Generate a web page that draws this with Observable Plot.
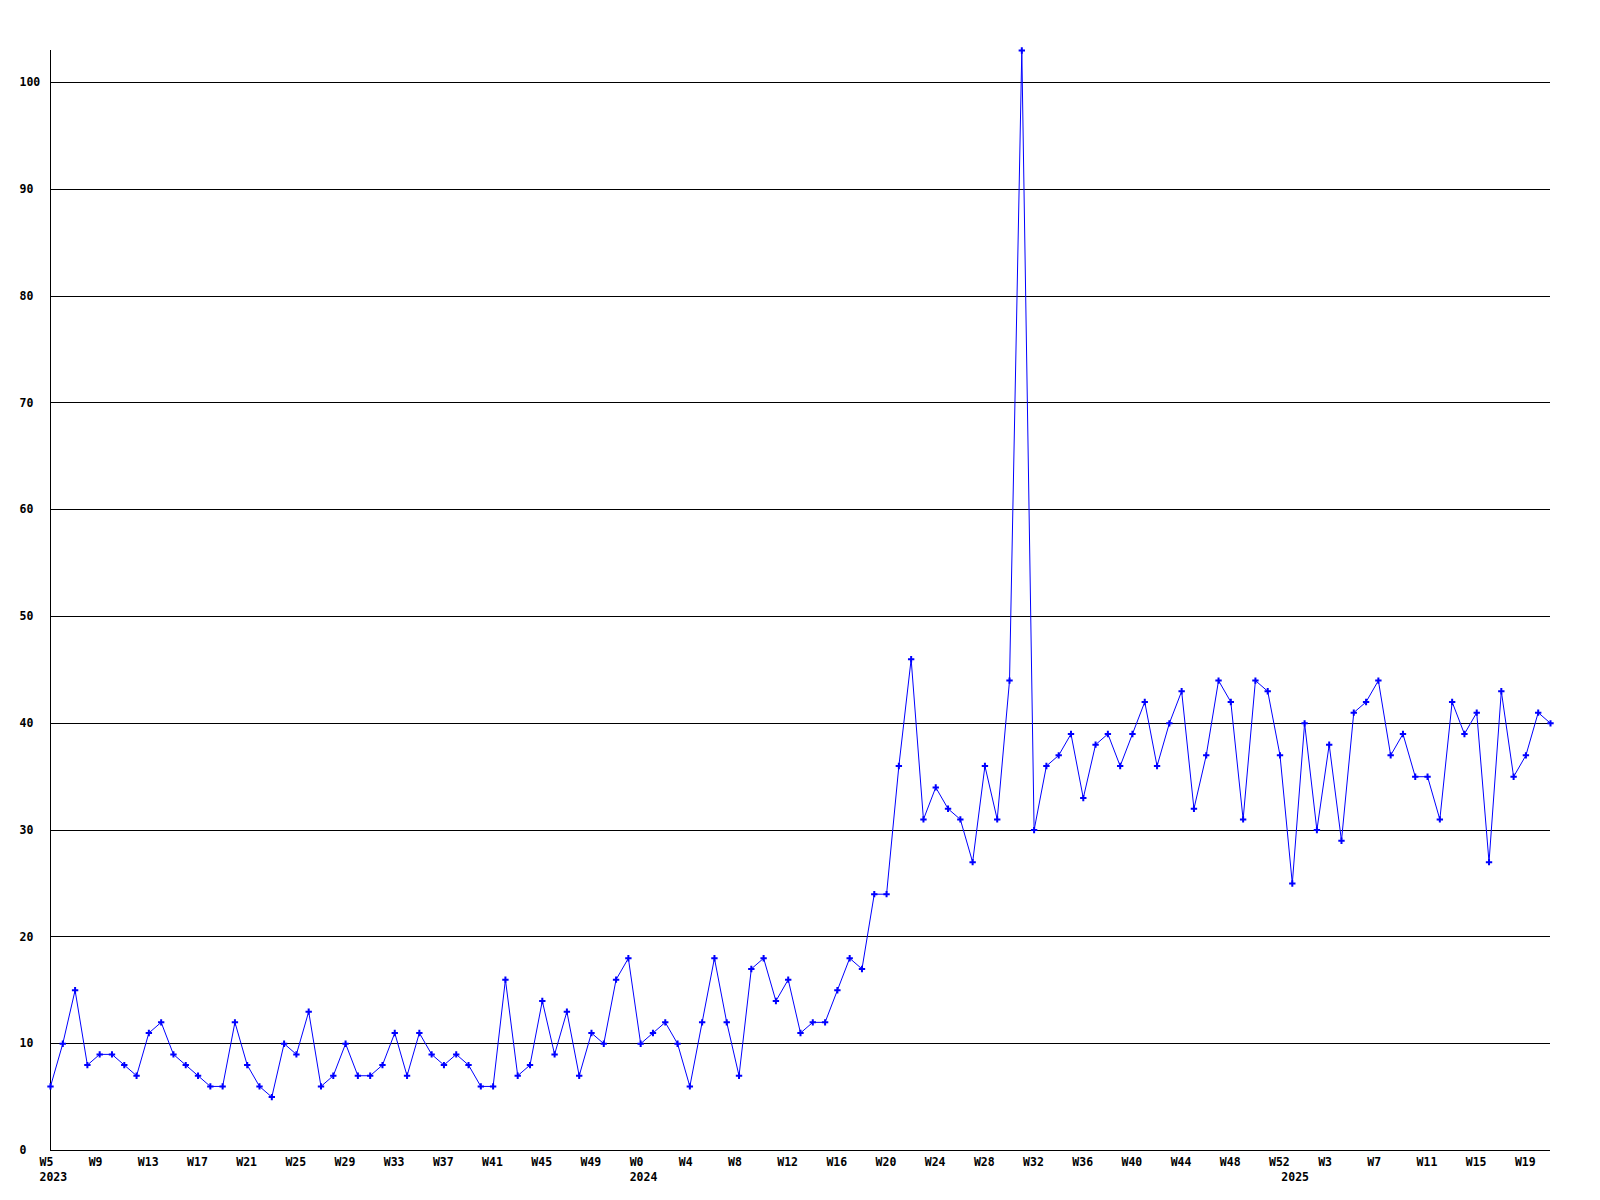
<!DOCTYPE html>
<html>
<head>
<meta charset="utf-8">
<script src="https://cdn.jsdelivr.net/npm/d3@7"></script>
<script src="https://cdn.jsdelivr.net/npm/@observablehq/plot@0.6"></script>
<style>
  html, body { margin: 0; padding: 0; background: #ffffff; }
  #chart svg { display: block; }
</style>
</head>
<body>
<div id="chart"></div>
<script>
// Weekly values
const years = [2023, 2024, 2025];
const firstWeek = [5, 0, 0];
const values2023 = [6, 10, 15, 8, 9, 9, 8, 7, 11, 12, 9, 8, 7, 6, 6, 12, 8, 6, 5, 10,
  9, 13, 6, 7, 10, 7, 7, 8, 11, 7, 11, 9, 8, 9, 8, 6, 6, 16, 7, 8, 14, 9, 13, 7, 11, 10, 16, 18];
const values2024 = [10, 11, 12, 10, 6, 12, 18, 12, 7, 17, 18, 14, 16, 11, 12, 12, 15, 18, 17, 24,
  24, 36, 46, 31, 34, 32, 31, 27, 36, 31, 44, 103, 30, 36, 37, 39, 33, 38, 39, 36,
  39, 42, 36, 40, 43, 32, 37, 44, 42, 31, 44, 43, 37];
const values2025 = [25, 40, 30, 38, 29, 41, 42, 44, 37, 39, 35, 35, 31, 42, 39, 41, 27, 43, 35, 37, 41, 40];
const yTicks = [0, 10, 20, 30, 40, 50, 60, 70, 80, 90, 100];
const yMax = 103;
const labelEvery = 4;

// Build table
const series = [values2023, values2024, values2025];
const data = [];
series.forEach((vals, k) => {
  vals.forEach((v, j) => {
    data.push({ i: data.length, v, week: "W" + (firstWeek[k] + j), year: years[k], firstOfYear: j === 0 });
  });
});
const xTicks = data.filter(d => d.i % labelEvery === 0);
const yearLabels = data.filter(d => d.firstOfYear);
const lastIndex = data.length - 1;

const blue = "#0000ff";
const font = "'DejaVu Sans Mono', 'Liberation Mono', monospace";

const chart = Plot.plot({
  width: 1600,
  height: 1200,
  marginLeft: 50,
  marginRight: 50,
  marginTop: 50,
  marginBottom: 50,
  style: { background: "#ffffff", fontFamily: font, fontSize: "11.5px", fontWeight: "bold", color: "#000" },
  x: { axis: null, domain: [0, lastIndex] },
  y: { axis: null, domain: [0, yMax] },
  marks: [
    Plot.ruleY(yTicks, { stroke: "#000", strokeWidth: 1, shapeRendering: "crispEdges" }),
    Plot.ruleX([0], { y1: 0, y2: yMax, stroke: "#000", strokeWidth: 1, shapeRendering: "crispEdges" }),
    Plot.text(yTicks, { x: 0, y: d => d, text: d => String(d), dx: -31, textAnchor: "start", fill: "#000", fontWeight: "bold" }),
    Plot.text(xTicks, { x: "i", y: 0, text: "week", dx: -11, dy: 12, textAnchor: "start", fill: "#000", fontWeight: "bold" }),
    Plot.text(yearLabels, { x: "i", y: 0, text: d => String(d.year), dx: -11, dy: 27, textAnchor: "start", fill: "#000", fontWeight: "bold" }),
    Plot.line(data, { x: "i", y: "v", stroke: blue, strokeWidth: 1 }),
    Plot.dot(data, { x: "i", y: "v", symbol: "plus", r: 2.2, stroke: blue, strokeWidth: 2 })
  ]
});
document.getElementById("chart").appendChild(chart);
</script>
</body>
</html>
